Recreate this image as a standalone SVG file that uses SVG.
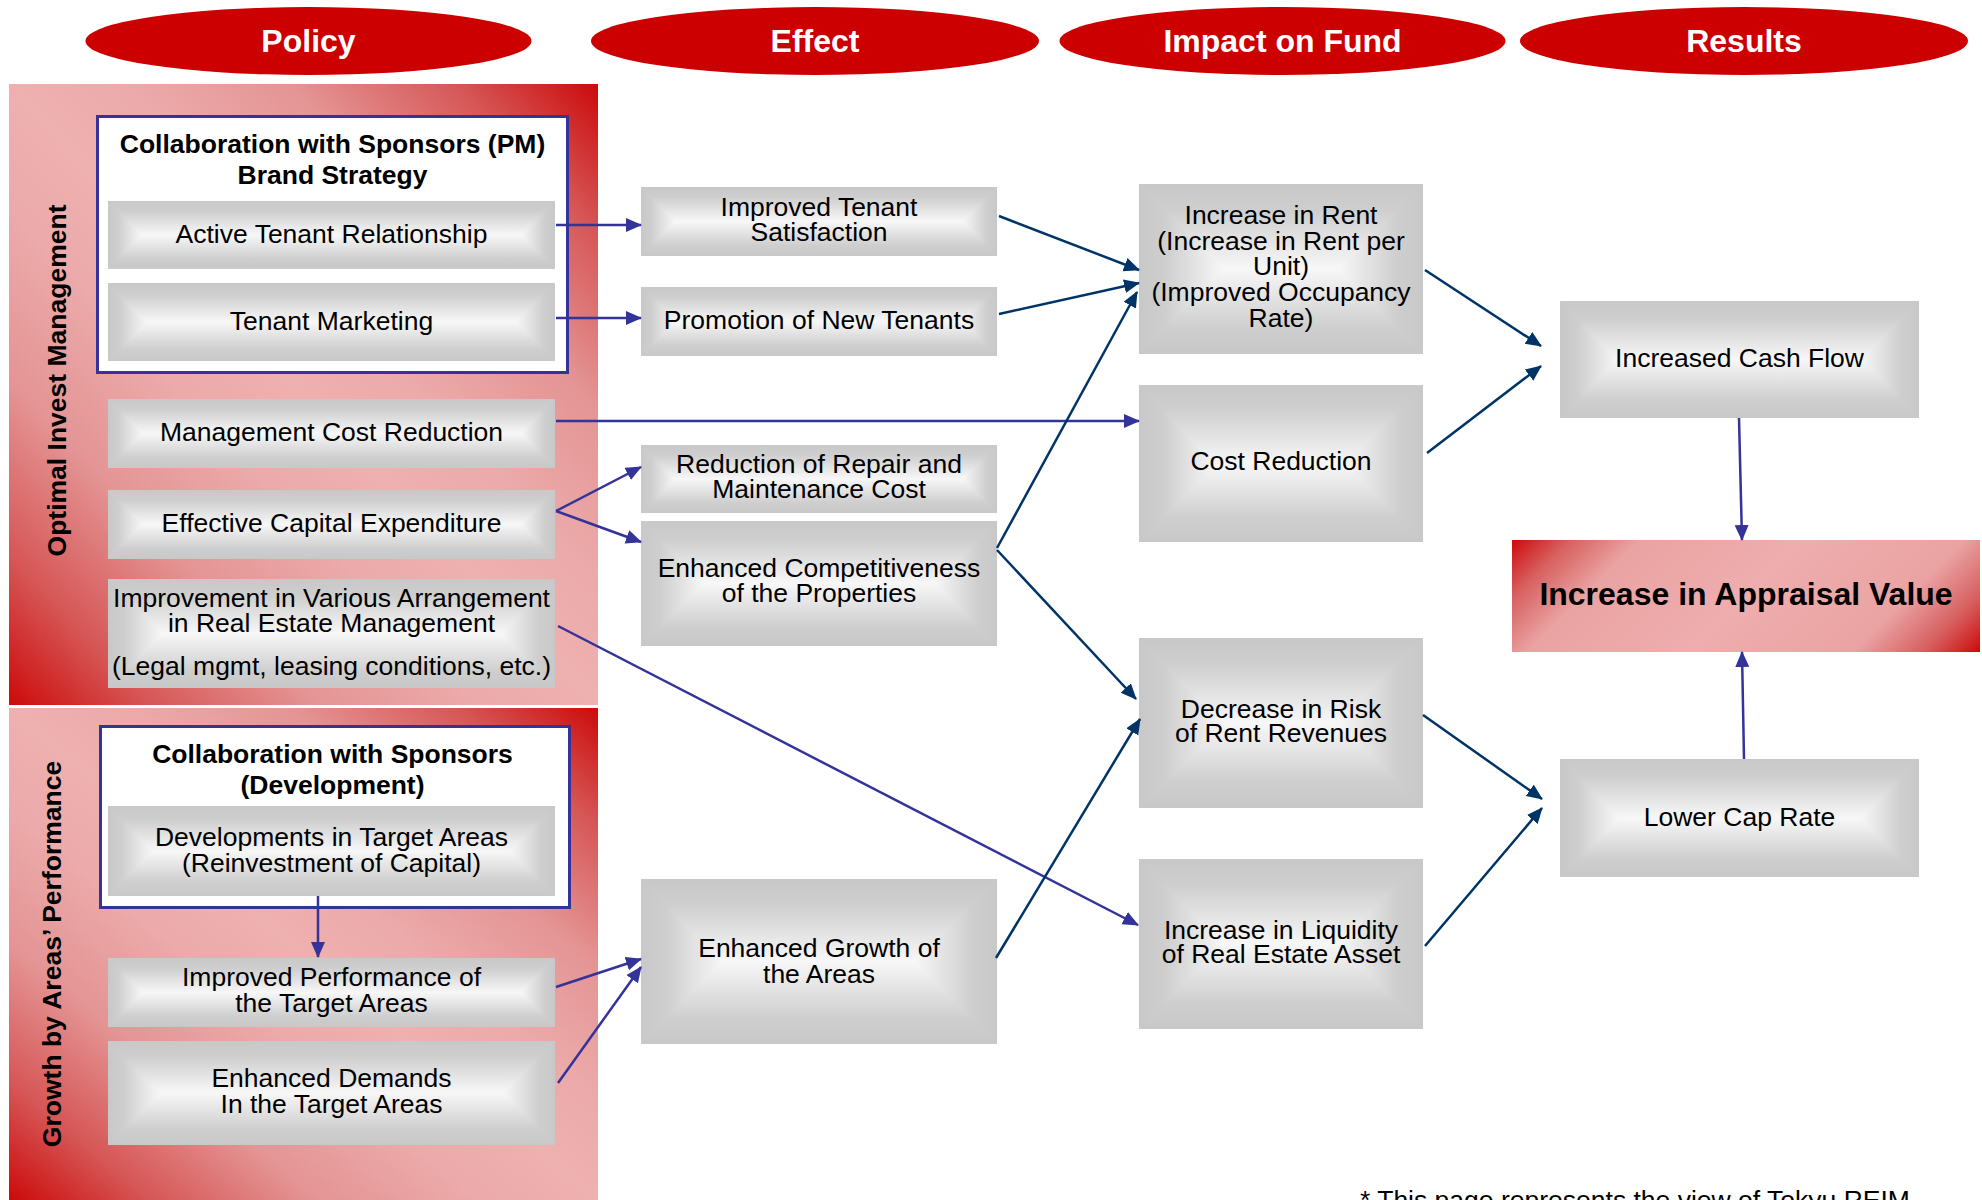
<svg xmlns="http://www.w3.org/2000/svg" width="1982" height="1200" viewBox="0 0 1982 1200">
<style>
.t{font-family:"Liberation Sans",Arial,sans-serif;font-size:26.5px;fill:#000;text-anchor:middle}
.tb{font-family:"Liberation Sans",Arial,sans-serif;font-size:26.5px;font-weight:bold;fill:#000;text-anchor:middle}
.hdr{font-family:"Liberation Sans",Arial,sans-serif;font-size:32px;font-weight:bold;fill:#fff;text-anchor:middle}
.big{font-family:"Liberation Sans",Arial,sans-serif;font-size:32px;font-weight:bold;fill:#000;text-anchor:middle}
.foot{font-family:"Liberation Sans",Arial,sans-serif;font-size:26.5px;fill:#000}
.ell{fill:#cc0000}
.gv{fill:url(#gv)}
.gl{fill:url(#gl)}
.gr{fill:url(#gr)}
.blue{fill:#fff;stroke:#333399;stroke-width:3}
.cb{fill:none;stroke:#333399;stroke-width:2.5;marker-end:url(#mb)}
.cn{fill:none;stroke:#003366;stroke-width:2.5;marker-end:url(#mn)}
</style>
<defs>
<linearGradient id="gv" x1="0" y1="0" x2="0" y2="1">
<stop offset="0" stop-color="#c8c8c8"/><stop offset="0.15" stop-color="#cecece"/><stop offset="0.5" stop-color="#f7f7f7"/><stop offset="0.85" stop-color="#cecece"/><stop offset="1" stop-color="#c8c8c8"/>
</linearGradient>
<linearGradient id="gl" x1="0" y1="0" x2="1" y2="0">
<stop offset="0" stop-color="#c8c8c8"/><stop offset="0.3" stop-color="#cecece"/><stop offset="1" stop-color="#f7f7f7"/>
</linearGradient>
<linearGradient id="gr" x1="1" y1="0" x2="0" y2="0">
<stop offset="0" stop-color="#c8c8c8"/><stop offset="0.3" stop-color="#cecece"/><stop offset="1" stop-color="#f7f7f7"/>
</linearGradient>
<linearGradient id="gp" x1="0" y1="1" x2="1" y2="0">
<stop offset="0" stop-color="#cc0a0a"/><stop offset="0.12" stop-color="#d65656"/><stop offset="0.26" stop-color="#e49494"/><stop offset="0.4" stop-color="#ecaaaa"/><stop offset="0.5" stop-color="#efb0b0"/><stop offset="0.6" stop-color="#ecaaaa"/><stop offset="0.74" stop-color="#e49494"/><stop offset="0.88" stop-color="#d65656"/><stop offset="1" stop-color="#cc0a0a"/>
</linearGradient>
<linearGradient id="ga" gradientUnits="userSpaceOnUse" x1="1512" y1="540" x2="1802" y2="830">
<stop offset="0" stop-color="#cc0a0a"/><stop offset="0.1" stop-color="#d86060"/><stop offset="0.22" stop-color="#eaa3a3"/><stop offset="0.5" stop-color="#efadad"/><stop offset="0.78" stop-color="#eaa3a3"/><stop offset="0.9" stop-color="#d86060"/><stop offset="1" stop-color="#cc0a0a"/>
</linearGradient>
<marker id="mb" markerUnits="userSpaceOnUse" markerWidth="17" markerHeight="15" refX="15" refY="7" orient="auto">
<path d="M0,0 L16,7 L0,14 z" fill="#333399"/>
</marker>
<marker id="mn" markerUnits="userSpaceOnUse" markerWidth="17" markerHeight="15" refX="15" refY="7" orient="auto">
<path d="M0,0 L16,7 L0,14 z" fill="#003366"/>
</marker>
</defs>
<rect width="1982" height="1200" fill="#fff"/>

<g id="headers">
<g id="h-policy"><ellipse class="ell" cx="308.5" cy="41" rx="223" ry="34"/><text class="hdr" x="308.5" y="52">Policy</text></g>
<g id="h-effect"><ellipse class="ell" cx="815" cy="41" rx="224" ry="34"/><text class="hdr" x="815" y="52">Effect</text></g>
<g id="h-impact"><ellipse class="ell" cx="1282.5" cy="41" rx="223" ry="34"/><text class="hdr" x="1282.5" y="52">Impact on Fund</text></g>
<g id="h-results"><ellipse class="ell" cx="1744" cy="41" rx="224" ry="34"/><text class="hdr" x="1744" y="52">Results</text></g>
</g>

<g id="panel-optimal">
<rect x="9" y="84" width="589" height="621" fill="url(#gp)"/>
<text class="tb" transform="translate(66,380.5) rotate(-90)">Optimal Invest Management</text>
</g>
<g id="panel-growth">
<rect x="9" y="708" width="589" height="492" fill="url(#gp)"/>
<text class="tb" transform="translate(61,954) rotate(-90)">Growth by Areas’ Performance</text>
</g>

<g id="group-pm">
<rect class="blue" x="97.5" y="116.5" width="470" height="256"/>
<text class="tb" x="332.5" y="153">Collaboration with Sponsors (PM)</text>
<text class="tb" x="332.5" y="184">Brand Strategy</text>
</g>
<g id="group-dev">
<rect class="blue" x="100.5" y="726.5" width="469" height="181"/>
<text class="tb" x="332.5" y="763">Collaboration with Sponsors</text>
<text class="tb" x="332.5" y="794">(Development)</text>
</g>

<g id="n-active-tenant">
<rect class="gv" x="108" y="201" width="447" height="68"/><polygon class="gl" points="108,201 142,235 108,269"/><polygon class="gr" points="555,201 521,235 555,269"/>
<text class="t" x="331.5" y="243">Active Tenant Relationship</text>
</g>
<g id="n-tenant-marketing">
<rect class="gv" x="108" y="283" width="447" height="78"/><polygon class="gl" points="108,283 147,322 108,361"/><polygon class="gr" points="555,283 516,322 555,361"/>
<text class="t" x="331.5" y="330">Tenant Marketing</text>
</g>
<g id="n-mgmt-cost">
<rect class="gv" x="108" y="399" width="447" height="69"/><polygon class="gl" points="108,399 142.5,433.5 108,468"/><polygon class="gr" points="555,399 520.5,433.5 555,468"/>
<text class="t" x="331.5" y="441">Management Cost Reduction</text>
</g>
<g id="n-capex">
<rect class="gv" x="108" y="490" width="447" height="69"/><polygon class="gl" points="108,490 142.5,524.5 108,559"/><polygon class="gr" points="555,490 520.5,524.5 555,559"/>
<text class="t" x="331.5" y="532">Effective Capital Expenditure</text>
</g>
<g id="n-improvement">
<rect class="gv" x="108" y="579" width="447" height="109"/><polygon class="gl" points="108,579 162.5,633.5 108,688"/><polygon class="gr" points="555,579 500.5,633.5 555,688"/>
<text class="t" x="331.5" y="607">Improvement in Various Arrangement</text>
<text class="t" x="331.5" y="632">in Real Estate Management</text>
<text class="t" x="331.5" y="675">(Legal mgmt, leasing conditions, etc.)</text>
</g>
<g id="n-developments">
<rect class="gv" x="108" y="806" width="447" height="90"/><polygon class="gl" points="108,806 153,851 108,896"/><polygon class="gr" points="555,806 510,851 555,896"/>
<text class="t" x="331.5" y="846">Developments in Target Areas</text>
<text class="t" x="331.5" y="872">(Reinvestment of Capital)</text>
</g>
<g id="n-improved-performance">
<rect class="gv" x="108" y="958" width="447" height="69"/><polygon class="gl" points="108,958 142.5,992.5 108,1027"/><polygon class="gr" points="555,958 520.5,992.5 555,1027"/>
<text class="t" x="331.5" y="986">Improved Performance of</text>
<text class="t" x="331.5" y="1012">the Target Areas</text>
</g>
<g id="n-enhanced-demands">
<rect class="gv" x="108" y="1041" width="447" height="104"/><polygon class="gl" points="108,1041 160,1093 108,1145"/><polygon class="gr" points="555,1041 503,1093 555,1145"/>
<text class="t" x="331.5" y="1087">Enhanced Demands</text>
<text class="t" x="331.5" y="1113">In the Target Areas</text>
</g>

<g id="n-tenant-satisfaction">
<rect class="gv" x="641" y="187" width="356" height="69"/><polygon class="gl" points="641,187 675.5,221.5 641,256"/><polygon class="gr" points="997,187 962.5,221.5 997,256"/>
<text class="t" x="819" y="216">Improved Tenant</text>
<text class="t" x="819" y="241">Satisfaction</text>
</g>
<g id="n-promotion">
<rect class="gv" x="641" y="287" width="356" height="69"/><polygon class="gl" points="641,287 675.5,321.5 641,356"/><polygon class="gr" points="997,287 962.5,321.5 997,356"/>
<text class="t" x="819" y="329">Promotion of New Tenants</text>
</g>
<g id="n-repair">
<rect class="gv" x="641" y="445" width="356" height="68"/><polygon class="gl" points="641,445 675,479 641,513"/><polygon class="gr" points="997,445 963,479 997,513"/>
<text class="t" x="819" y="473">Reduction of Repair and</text>
<text class="t" x="819" y="498">Maintenance Cost</text>
</g>
<g id="n-competitiveness">
<rect class="gv" x="641" y="521" width="356" height="125"/><polygon class="gl" points="641,521 703.5,583.5 641,646"/><polygon class="gr" points="997,521 934.5,583.5 997,646"/>
<text class="t" x="819" y="577">Enhanced Competitiveness</text>
<text class="t" x="819" y="602">of the Properties</text>
</g>
<g id="n-growth-areas">
<rect class="gv" x="641" y="879" width="356" height="165"/><polygon class="gl" points="641,879 723.5,961.5 641,1044"/><polygon class="gr" points="997,879 914.5,961.5 997,1044"/>
<text class="t" x="819" y="957">Enhanced Growth of</text>
<text class="t" x="819" y="983">the Areas</text>
</g>

<g id="n-rent">
<rect class="gv" x="1139" y="184" width="284" height="170"/><polygon class="gl" points="1139,184 1224,269 1139,354"/><polygon class="gr" points="1423,184 1338,269 1423,354"/>
<text class="t" x="1281" y="224">Increase in Rent</text>
<text class="t" x="1281" y="250">(Increase in Rent per</text>
<text class="t" x="1281" y="275">Unit)</text>
<text class="t" x="1281" y="301">(Improved Occupancy</text>
<text class="t" x="1281" y="327">Rate)</text>
</g>
<g id="n-cost-reduction">
<rect class="gv" x="1139" y="385" width="284" height="157"/><polygon class="gl" points="1139,385 1217.5,463.5 1139,542"/><polygon class="gr" points="1423,385 1344.5,463.5 1423,542"/>
<text class="t" x="1281" y="470">Cost Reduction</text>
</g>
<g id="n-risk">
<rect class="gv" x="1139" y="638" width="284" height="170"/><polygon class="gl" points="1139,638 1224,723 1139,808"/><polygon class="gr" points="1423,638 1338,723 1423,808"/>
<text class="t" x="1281" y="718">Decrease in Risk</text>
<text class="t" x="1281" y="742">of Rent Revenues</text>
</g>
<g id="n-liquidity">
<rect class="gv" x="1139" y="859" width="284" height="170"/><polygon class="gl" points="1139,859 1224,944 1139,1029"/><polygon class="gr" points="1423,859 1338,944 1423,1029"/>
<text class="t" x="1281" y="939">Increase in Liquidity</text>
<text class="t" x="1281" y="963">of Real Estate Asset</text>
</g>

<g id="n-cash-flow">
<rect class="gv" x="1560" y="301" width="359" height="117"/><polygon class="gl" points="1560,301 1618.5,359.5 1560,418"/><polygon class="gr" points="1919,301 1860.5,359.5 1919,418"/>
<text class="t" x="1739.5" y="367">Increased Cash Flow</text>
</g>
<g id="n-cap-rate">
<rect class="gv" x="1560" y="759" width="359" height="118"/><polygon class="gl" points="1560,759 1619,818 1560,877"/><polygon class="gr" points="1919,759 1860,818 1919,877"/>
<text class="t" x="1739.5" y="826">Lower Cap Rate</text>
</g>
<g id="n-appraisal">
<rect x="1512" y="540" width="468" height="112" fill="url(#ga)"/>
<text class="big" x="1746" y="605">Increase in Appraisal Value</text>
</g>

<g id="connectors">
<path class="cb" d="M556,225 L641,225"/>
<path class="cb" d="M556,318 L641,318"/>
<path class="cb" d="M556,421 L1139,421"/>
<path class="cb" d="M556,511 L641,467"/>
<path class="cb" d="M556,511 L641,542"/>
<path class="cb" d="M558,626 L1138,925"/>
<path class="cb" d="M318,896 L318,957"/>
<path class="cb" d="M556,987 L641,959"/>
<path class="cb" d="M558,1083 L641,967"/>
<path class="cn" d="M999,216 L1139,270"/>
<path class="cn" d="M999,314 L1139,283"/>
<path class="cn" d="M997,548 L1137,292"/>
<path class="cn" d="M997,550 L1136,699"/>
<path class="cn" d="M996,958 L1140,719"/>
<path class="cn" d="M1425,270 L1541,346"/>
<path class="cn" d="M1427,453 L1541,366"/>
<path class="cn" d="M1423,715 L1542,799"/>
<path class="cn" d="M1425,946 L1542,808"/>
<path class="cb" d="M1739,418 L1742,540"/>
<path class="cb" d="M1744,759 L1742,652"/>
</g>

<text class="foot" x="1360" y="1209">* This page represents the view of Tokyu REIM</text>
</svg>
